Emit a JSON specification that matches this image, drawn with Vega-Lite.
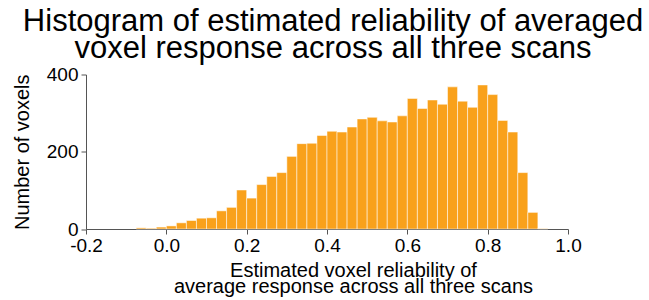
{
  "$schema": "https://vega.github.io/schema/vega-lite/v6.json",
  "width": 482,
  "height": 154.5,
  "autosize": {"type": "none"},
  "padding": {"left": 86, "top": 74.5, "right": 81, "bottom": 71},
  "background": "white",
  "title": {
    "text": ["Histogram of estimated reliability of averaged", "voxel response across all three scans"],
    "font": "Liberation Sans",
    "fontSize": 31,
    "fontWeight": "normal",
    "color": "black",
    "lineHeight": 27,
    "anchor": "middle",
    "frame": "group",
    "dx": 6,
    "offset": 1
  },
  "data": {
    "values": [
      {"bin_start": -0.075, "bin_end": -0.05, "count": 3},
      {"bin_start": -0.05, "bin_end": -0.025, "count": 2},
      {"bin_start": -0.025, "bin_end": 0.0, "count": 5},
      {"bin_start": 0.0, "bin_end": 0.025, "count": 8},
      {"bin_start": 0.025, "bin_end": 0.05, "count": 16},
      {"bin_start": 0.05, "bin_end": 0.075, "count": 22},
      {"bin_start": 0.075, "bin_end": 0.1, "count": 28},
      {"bin_start": 0.1, "bin_end": 0.125, "count": 29},
      {"bin_start": 0.125, "bin_end": 0.15, "count": 47},
      {"bin_start": 0.15, "bin_end": 0.175, "count": 56},
      {"bin_start": 0.175, "bin_end": 0.2, "count": 101},
      {"bin_start": 0.2, "bin_end": 0.225, "count": 80},
      {"bin_start": 0.225, "bin_end": 0.25, "count": 115},
      {"bin_start": 0.25, "bin_end": 0.275, "count": 136},
      {"bin_start": 0.275, "bin_end": 0.3, "count": 146},
      {"bin_start": 0.3, "bin_end": 0.325, "count": 188},
      {"bin_start": 0.325, "bin_end": 0.35, "count": 221},
      {"bin_start": 0.35, "bin_end": 0.375, "count": 222},
      {"bin_start": 0.375, "bin_end": 0.4, "count": 242},
      {"bin_start": 0.4, "bin_end": 0.425, "count": 253},
      {"bin_start": 0.425, "bin_end": 0.45, "count": 251},
      {"bin_start": 0.45, "bin_end": 0.475, "count": 264},
      {"bin_start": 0.475, "bin_end": 0.5, "count": 285},
      {"bin_start": 0.5, "bin_end": 0.525, "count": 289},
      {"bin_start": 0.525, "bin_end": 0.55, "count": 280},
      {"bin_start": 0.55, "bin_end": 0.575, "count": 277},
      {"bin_start": 0.575, "bin_end": 0.6, "count": 293},
      {"bin_start": 0.6, "bin_end": 0.625, "count": 338},
      {"bin_start": 0.625, "bin_end": 0.65, "count": 312},
      {"bin_start": 0.65, "bin_end": 0.675, "count": 334},
      {"bin_start": 0.675, "bin_end": 0.7, "count": 323},
      {"bin_start": 0.7, "bin_end": 0.725, "count": 368},
      {"bin_start": 0.725, "bin_end": 0.75, "count": 331},
      {"bin_start": 0.75, "bin_end": 0.775, "count": 315},
      {"bin_start": 0.775, "bin_end": 0.8, "count": 373},
      {"bin_start": 0.8, "bin_end": 0.825, "count": 348},
      {"bin_start": 0.825, "bin_end": 0.85, "count": 281},
      {"bin_start": 0.85, "bin_end": 0.875, "count": 251},
      {"bin_start": 0.875, "bin_end": 0.9, "count": 146},
      {"bin_start": 0.9, "bin_end": 0.925, "count": 43},
      {"bin_start": 0.925, "bin_end": 0.95, "count": 1}
    ]
  },
  "mark": {"type": "bar", "fill": "#F9A11B", "stroke": "white", "strokeWidth": 1, "strokeOpacity": 0.5},
  "encoding": {
    "x": {
      "field": "bin_start",
      "type": "quantitative",
      "scale": {"domain": [-0.2, 1.0], "nice": false, "zero": false},
      "axis": {
        "values": [-0.2, 0, 0.2, 0.4, 0.6, 0.8, 1.0],
        "labelExpr": "datum.value < 0 ? '-' + format(-datum.value, '.1f') : format(datum.value, '.1f')",
        "grid": false,
        "labelFont": "Liberation Sans",
        "labelFontSize": 19,
        "labelColor": "black",
        "labelPadding": 2,
        "labelFlush": false,
        "tickSize": 5,
        "tickColor": "#555",
        "domainColor": "#555",
        "title": ["Estimated voxel reliability of", "average response across all three scans"],
        "titleFont": "Liberation Sans",
        "titleFontSize": 20,
        "titleFontWeight": "normal",
        "titleColor": "black",
        "titleLineHeight": 16.5,
        "titlePadding": 5,
        "titleX": 267
      }
    },
    "x2": {"field": "bin_end"},
    "y": {
      "field": "count",
      "type": "quantitative",
      "scale": {"domain": [0, 400], "nice": false},
      "axis": {
        "values": [0, 200, 400],
        "grid": false,
        "labelFont": "Liberation Sans",
        "labelFontSize": 19,
        "labelColor": "black",
        "labelPadding": 3,
        "labelFlush": false,
        "tickSize": 5,
        "tickColor": "#555",
        "domainColor": "#555",
        "title": "Number of voxels",
        "titleFont": "Liberation Sans",
        "titleFontSize": 20,
        "titleFontWeight": "normal",
        "titleColor": "black",
        "titlePadding": 14
      }
    },
    "y2": {"datum": 0}
  },
  "config": {"view": {"stroke": null}}
}
